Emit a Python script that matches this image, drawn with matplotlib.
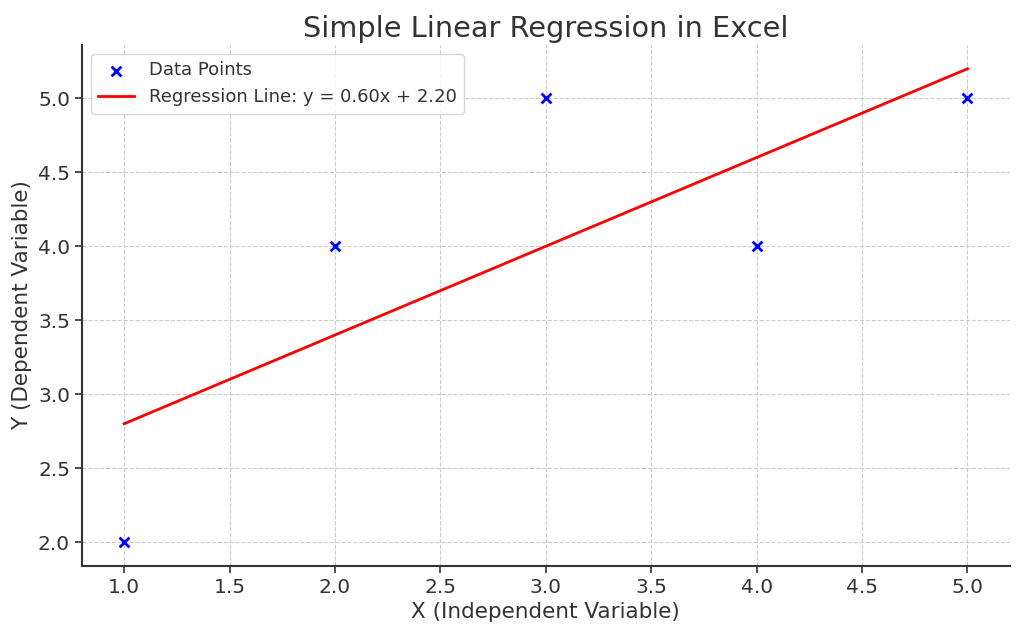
import numpy as np
import matplotlib.pyplot as plt

# data
x_vals = [1, 2, 3, 4, 5]
y_vals = [2, 4, 5, 4, 5]
slope = 0.60
intercept = 2.20

text_color = "#333333"
plt.rcParams["text.color"] = text_color
plt.rcParams["axes.labelcolor"] = text_color
plt.rcParams["xtick.color"] = text_color
plt.rcParams["ytick.color"] = text_color
plt.rcParams["axes.edgecolor"] = text_color

fig = plt.figure(figsize=(10.24, 6.35), dpi=100)
ax = fig.add_axes([0.080, 0.109, 0.906, 0.820])

x = np.array(x_vals)
y_line = slope * x + intercept

ax.scatter(x_vals, y_vals, color="blue", marker="x", s=50, linewidths=2,
           label="Data Points", zorder=3)
ax.plot(x, y_line, color="red", linewidth=2,
        label=f"Regression Line: y = {slope:.2f}x + {intercept:.2f}")

ax.set_title("Simple Linear Regression in Excel", fontsize=20.7)
ax.set_xlabel("X (Independent Variable)", fontsize=15.5)
ax.set_ylabel("Y (Dependent Variable)", fontsize=15.5)
ax.tick_params(labelsize=14.5, width=1.2, length=5)
ax.grid(True, linestyle="--", color="#cccccc", linewidth=0.8)
ax.spines["top"].set_visible(False)
ax.spines["right"].set_visible(False)
ax.spines["left"].set_linewidth(1.5)
ax.spines["bottom"].set_linewidth(1.5)
ax.legend(loc="upper left", fontsize=13)

fig.savefig("out.png", dpi=100)
